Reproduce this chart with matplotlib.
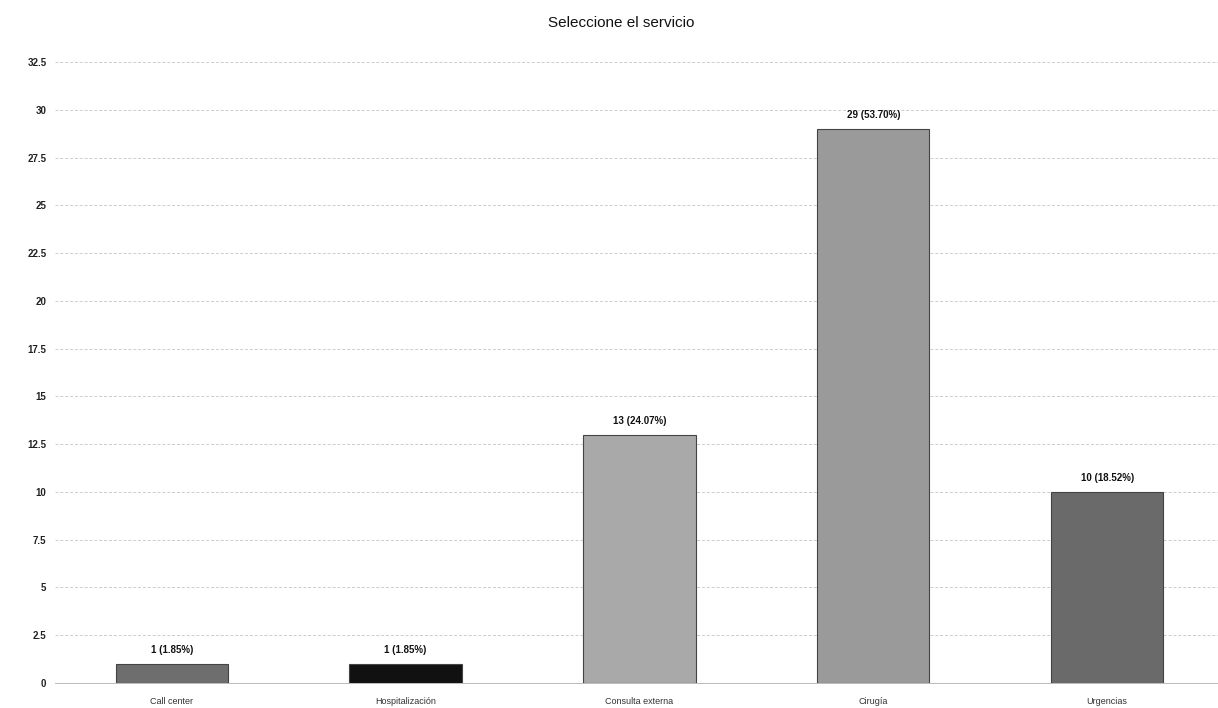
import matplotlib
matplotlib.use("Agg")
import matplotlib.pyplot as plt
import numpy as np

categories = ["Call center", "Hospitalización", "Consulta externa", "Cirugía", "Urgencias"]
values = [1, 1, 13, 29, 10]
percents = ["1.85%", "1.85%", "24.07%", "53.70%", "18.52%"]
yticks = [0, 2.5, 5, 7.5, 10, 12.5, 15, 17.5, 20, 22.5, 25, 27.5, 30, 32.5]
colors = ["#6e6e6e", "#111111", "#a9a9a9", "#9a9a9a", "#6a6a6a"]

plt.rcParams['font.family'] = ['Liberation Sans', 'DejaVu Sans']
fig = plt.figure(figsize=(12.18, 7.08), dpi=100)
ax = fig.add_axes([0.045, 0.0353, 0.96, 0.877])

x = np.arange(len(categories))
bars = ax.bar(x, values, width=0.48, color=colors, edgecolor="#444444", linewidth=0.8, zorder=3)
for b, v, p in zip(bars, values, percents):
    ax.text(b.get_x() + b.get_width() / 2, v + 0.45, f"{v} ({p})", ha="center", va="bottom",
            fontsize=7, fontweight="bold", color="#111111")

ax.set_xlim(-0.5, len(categories) - 0.5)
ax.set_ylim(0, 32.5)
ax.set_yticks(yticks)
ax.set_yticklabels([f"{t:g}" for t in yticks], fontsize=7, fontweight="bold", color="#222222")
ax.set_xticks(x)
ax.set_xticklabels(categories, fontsize=6.5, color="#333333")
ax.tick_params(axis="x", length=0, pad=10)
ax.tick_params(axis="y", length=0, pad=6)
ax.grid(axis="y", linestyle=(0, (3, 2)), color="#cccccc", linewidth=0.7, zorder=0)
for s in ["top", "right", "left"]:
    ax.spines[s].set_visible(False)
ax.spines["bottom"].set_color("#bbbbbb")
ax.spines["bottom"].set_linewidth(0.7)

fig.text(0.51, 0.967, "Seleccione el servicio", ha="center", va="center", fontsize=11, color="#111111")

fig.savefig("out.png", dpi=100)
